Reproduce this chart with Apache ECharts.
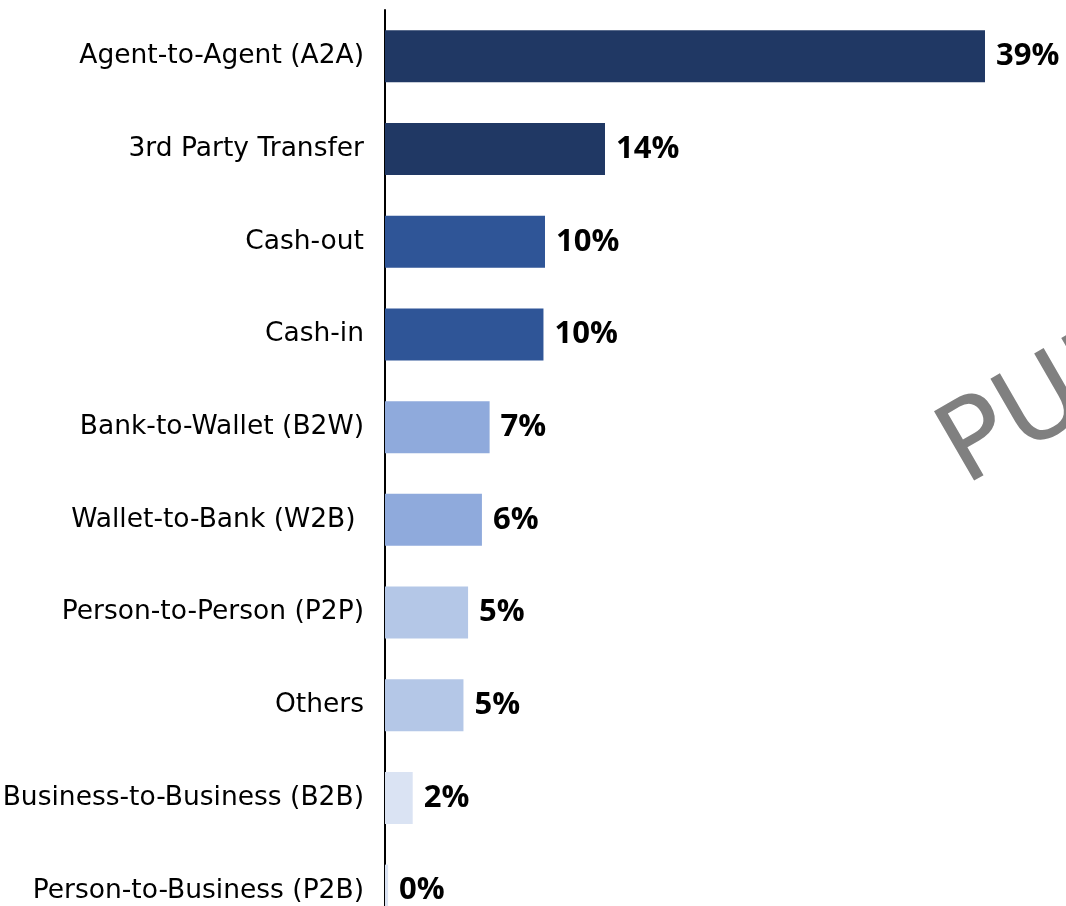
<!DOCTYPE html>
<html>
<head>
<meta charset="utf-8">
<script src="https://cdn.jsdelivr.net/npm/echarts@6/dist/echarts.min.js"></script>
<style>
    html, body { margin: 0; padding: 0; background: #fff; }
    #chart { width: 1066px; height: 906px; }
</style>
</head>
<body>
<div id="chart"></div>
<script>
// transaction types, top to bottom
const categories = [
    'Agent-to-Agent (A2A)',
    '3rd Party Transfer',
    'Cash-out',
    'Cash-in',
    'Bank-to-Wallet (B2W)',
    'Wallet-to-Bank (W2B) ',
    'Person-to-Person (P2P)',
    'Others',
    'Business-to-Business (B2B)',
    'Person-to-Business (P2B)'
];
// share of transactions, %
const shares = [39, 14.3, 10.4, 10.3, 6.8, 6.3, 5.4, 5.1, 1.8, 0.2];

// bar fill per row
const barColors = ['#203864', '#203864', '#2f5597', '#2f5597', '#8faadc', '#8faadc', '#b4c7e7', '#b4c7e7', '#dae3f3', '#dae3f3'];

const chart = echarts.init(document.getElementById('chart'));

chart.setOption({
    animation: false,
    grid: {
        left: 385,
        right: 81,
        top: 10,
        height: 927,
        containLabel: false,
        outerBoundsMode: 'none'
    },
    xAxis: {
        type: 'value',
        min: 0,
        max: 39,
        show: false
    },
    yAxis: {
        type: 'category',
        inverse: true,
        data: categories,
        axisTick: { show: false },
        axisLine: {
            lineStyle: { color: '#000', width: 2 }
        },
        axisLabel: {
            margin: 21,
            color: '#000',
            fontFamily: 'DejaVu Sans',
            fontSize: 26.5
        }
    },
    // watermark, runs off the right edge
    graphic: [
        {
            type: 'text',
            x: 978,
            y: 509,
            rotation: Math.PI / 6,
            silent: true,
            style: {
                text: 'PUBLIC',
                fill: '#808080',
                fontFamily: 'DejaVu Sans',
                fontSize: 110,
                verticalAlign: 'bottom'
            }
        }
    ],
    series: [
        {
            type: 'bar',
            barWidth: 52,
            data: shares.map((v, i) => ({
                value: v,
                itemStyle: { color: barColors[i] }
            })),
            label: {
                show: true,
                position: 'right',
                distance: 11,
                color: '#000',
                fontFamily: 'Open Sans',
                fontWeight: 'bold',
                fontSize: 31,
                formatter: (p) => Math.round(p.value) + '%'
            }
        }
    ]
});
</script>
</body>
</html>
